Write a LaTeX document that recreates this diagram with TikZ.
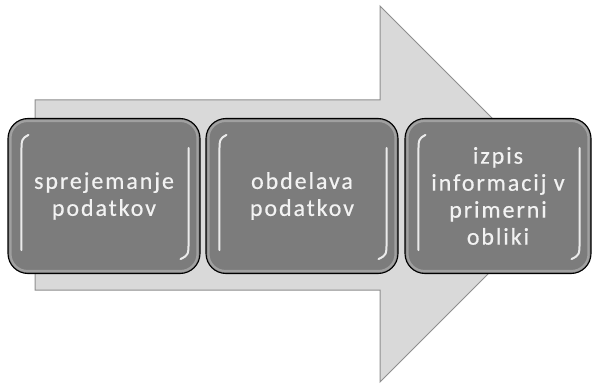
\documentclass[tikz,border=0pt]{standalone}
\usepackage{fontspec}
\setmainfont{Carlito}[LetterSpace=8, FakeBold=0.5]
\usetikzlibrary{calc}
\definecolor{arrowfill}{HTML}{D9D9D9}
\definecolor{arrowline}{HTML}{8E8E8E}
\definecolor{boxfill}{HTML}{7C7C7C}
\definecolor{boxtext}{HTML}{F2F2F2}
\tikzset{
  bigarrow/.style={fill=arrowfill, draw=arrowline, line width=1pt, line join=miter},
  stagebox/.style={rectangle, rounded corners=20pt, fill=boxfill, draw=black,
    line width=1.1pt, minimum height=155pt, inner sep=0pt,
    align=center, text=boxtext, font=\fontsize{24}{27}\selectfont},
  rim/.style={white, opacity=0.28, line width=2.2pt, rounded corners=17pt},
  gloss/.style={white, opacity=0.85, line width=2pt, line cap=round},
}
% glossy highlights inside a stage box
\newcommand{\glossbox}[1]{%
  \draw[rim] ($(#1.north west)+(3,3)$) rectangle ($(#1.south east)+(-3,-3)$);
  \draw[gloss] ($(#1.north west)+(21,17)$) .. controls ($(#1.north west)+(14,21)$) .. ($(#1.north west)+(14,36)$)
    -- ($(#1.south west)+(14,-24)$);
  \draw[gloss] ($(#1.north east)+(-12,30)$) -- ($(#1.south east)+(-12,-34)$)
    .. controls ($(#1.south east)+(-12,-19)$) .. ($(#1.south east)+(-20,-15)$);
}
\begin{document}
\begin{tikzpicture}[x=1pt, y=-1pt]
  \useasboundingbox (0,0) rectangle (592,385);
  % broad flow arrow behind the stages
  \draw[bigarrow] (35,100) -- (380,100) -- (380,6) -- (568,194) -- (380,382)
    -- (380,290) -- (35,290) -- cycle;
  % stages
  \node[stagebox, minimum width=192pt] (b1) at (104,196) {sprejemanje\\podatkov};
  \node[stagebox, minimum width=192pt] (b2) at (302,196) {obdelava\\podatkov};
  \node[stagebox, minimum width=186pt] (b3) at (498,196) {izpis\\informacij v\\primerni\\obliki};
  \glossbox{b1}
  \glossbox{b2}
  \glossbox{b3}
\end{tikzpicture}
\end{document}
